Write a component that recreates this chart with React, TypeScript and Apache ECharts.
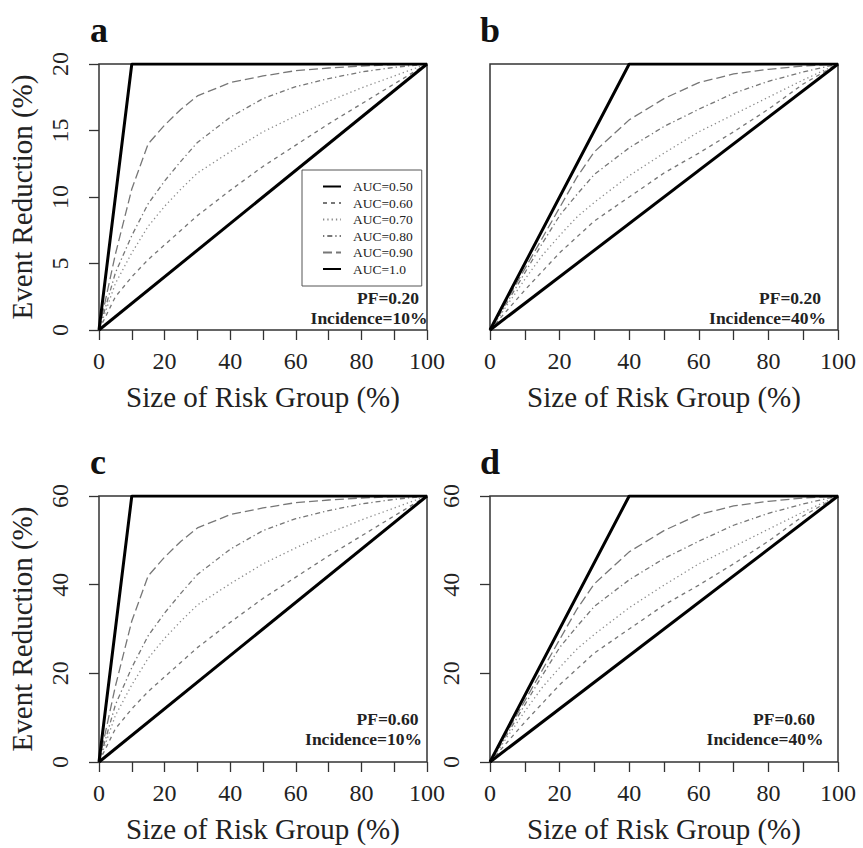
import React, { useEffect, useRef } from "react";
import * as echarts from "echarts";

// ---------- data ----------
const X_GRID = [0, 5, 10, 15, 20, 25, 30, 40, 50, 60, 70, 80, 90, 100];
const X_DIAG = [0, 100];
const AUC_LABELS = ["AUC=0.50", "AUC=0.60", "AUC=0.70", "AUC=0.80", "AUC=0.90", "AUC=1.0"];

// Panel a: PF=0.20, Incidence=10%
const A_AUC050 = [0, 20];
const A_AUC060 = [0, 2.5, 4.0, 5.3, 6.4, 7.5, 8.6, 10.5, 12.3, 13.9, 15.5, 17.0, 18.5, 20];
const A_AUC070 = [0, 3.5, 5.8, 7.8, 9.3, 10.6, 11.8, 13.4, 14.9, 16.1, 17.2, 18.2, 19.1, 20];
const A_AUC080 = [0, 4.3, 7.1, 9.5, 11.2, 12.7, 14.1, 16.0, 17.4, 18.3, 18.9, 19.4, 19.75, 20];
const A_AUC090 = [0, 5.7, 10.6, 14.0, 15.4, 16.6, 17.6, 18.6, 19.1, 19.5, 19.7, 19.85, 19.95, 20];
const A_AUC100_X = [0, 10, 100];
const A_AUC100 = [0, 20, 20];

// Panel b: PF=0.20, Incidence=40%
const B_AUC050 = [0, 20];
const B_AUC060 = [0, 1.5, 3.0, 4.4, 5.8, 7.0, 8.2, 10.0, 11.8, 13.3, 14.9, 16.6, 18.5, 20];
const B_AUC070 = [0, 1.9, 3.8, 5.6, 7.1, 8.5, 9.6, 11.6, 13.3, 14.9, 16.2, 17.5, 18.8, 20];
const B_AUC080 = [0, 2.1, 4.3, 6.5, 8.6, 10.2, 11.7, 13.7, 15.3, 16.6, 17.8, 18.7, 19.4, 20];
const B_AUC090 = [0, 2.3, 4.6, 6.9, 9.2, 11.5, 13.4, 15.8, 17.4, 18.6, 19.25, 19.6, 19.85, 20];
const B_AUC100_X = [0, 40, 100];
const B_AUC100 = [0, 20, 20];

// Panel c: PF=0.60, Incidence=10%
const C_AUC050 = [0, 60];
const C_AUC060 = [0, 7.5, 12.0, 15.9, 19.2, 22.5, 25.8, 31.5, 36.9, 41.7, 46.5, 51.0, 55.5, 60];
const C_AUC070 = [0, 10.5, 17.4, 23.4, 27.9, 31.8, 35.4, 40.2, 44.7, 48.3, 51.6, 54.6, 57.3, 60];
const C_AUC080 = [0, 12.9, 21.3, 28.5, 33.6, 38.1, 42.3, 48.0, 52.2, 54.9, 56.7, 58.2, 59.25, 60];
const C_AUC090 = [0, 17.1, 31.8, 42.0, 46.2, 49.8, 52.8, 55.8, 57.3, 58.5, 59.1, 59.55, 59.85, 60];
const C_AUC100_X = [0, 10, 100];
const C_AUC100 = [0, 60, 60];

// Panel d: PF=0.60, Incidence=40%
const D_AUC050 = [0, 60];
const D_AUC060 = [0, 4.5, 9.0, 13.2, 17.4, 21.0, 24.6, 30.0, 35.4, 39.9, 44.7, 49.8, 55.5, 60];
const D_AUC070 = [0, 5.7, 11.4, 16.8, 21.3, 25.5, 28.8, 34.8, 39.9, 44.7, 48.6, 52.5, 56.4, 60];
const D_AUC080 = [0, 6.3, 12.9, 19.5, 25.8, 30.6, 35.1, 41.1, 45.9, 49.8, 53.4, 56.1, 58.2, 60];
const D_AUC090 = [0, 6.9, 13.8, 20.7, 27.6, 34.5, 40.2, 47.4, 52.2, 55.8, 57.75, 58.8, 59.55, 60];
const D_AUC100_X = [0, 40, 100];
const D_AUC100 = [0, 60, 60];

const PANEL_LETTERS = ["a", "b", "c", "d"];
const PF_TEXT = ["PF=0.20", "PF=0.20", "PF=0.60", "PF=0.60"];
const INC_TEXT = ["Incidence=10%", "Incidence=40%", "Incidence=10%", "Incidence=40%"];
const Y_MAX = [20, 20, 60, 60];
const Y_INTERVAL = [5, 5, 20, 20];

const X_TITLE = "Size of Risk Group (%)";
const Y_TITLE = "Event Reduction (%)";

const PANEL_DATA = [
  [[X_DIAG, A_AUC050], [X_GRID, A_AUC060], [X_GRID, A_AUC070], [X_GRID, A_AUC080], [X_GRID, A_AUC090], [A_AUC100_X, A_AUC100]],
  [[X_DIAG, B_AUC050], [X_GRID, B_AUC060], [X_GRID, B_AUC070], [X_GRID, B_AUC080], [X_GRID, B_AUC090], [B_AUC100_X, B_AUC100]],
  [[X_DIAG, C_AUC050], [X_GRID, C_AUC060], [X_GRID, C_AUC070], [X_GRID, C_AUC080], [X_GRID, C_AUC090], [C_AUC100_X, C_AUC100]],
  [[X_DIAG, D_AUC050], [X_GRID, D_AUC060], [X_GRID, D_AUC070], [X_GRID, D_AUC080], [X_GRID, D_AUC090], [D_AUC100_X, D_AUC100]],
];

// ---------- layout / styles ----------
const FONT = "Liberation Serif";
const GRIDS = [
  { left: 99, top: 64, width: 328, height: 266 },
  { left: 490, top: 64, width: 348, height: 266 },
  { left: 99, top: 496, width: 328, height: 266 },
  { left: 490, top: 496, width: 348, height: 266 },
];
const SHOW_Y = [true, false, true, true];
const SHOW_Y_TITLE = [true, false, true, false];
const LETTER_POS = [
  [90, 30],
  [480, 30],
  [90, 462],
  [480, 462],
];
const PF_POS = [
  [419, 298],
  [821, 298],
  [418.5, 719],
  [815, 719],
];
const INC_POS = [
  [427.5, 318],
  [826, 318],
  [422, 738.5],
  [823.5, 739],
];

const LINE_STYLES: Record<string, any> = {
  "AUC=0.50": { color: "#000", width: 3, type: "solid" },
  "AUC=0.60": { color: "#777", width: 1.3, type: [4, 4] },
  "AUC=0.70": { color: "#8a8a8a", width: 1.3, type: [1.3, 3] },
  "AUC=0.80": { color: "#777", width: 1.3, type: [1.3, 3, 5, 3] },
  "AUC=0.90": { color: "#777", width: 1.3, type: [9, 4] },
  "AUC=1.0": { color: "#000", width: 3, type: "solid" },
};

function pairs(xs: number[], ys: number[]) {
  return xs.map((x, i) => [x, ys[i]]);
}

export default function App() {
  const ref = useRef<HTMLDivElement>(null);

  useEffect(() => {
    document.body.style.margin = "0";
    if (!ref.current) return;
    const chart = echarts.init(ref.current, undefined, { renderer: "svg" });

    const grid = GRIDS.map((g) => ({
      ...g,
      show: true,
      borderColor: "#333",
      borderWidth: 1.5,
      backgroundColor: "transparent",
      containLabel: false,
    }));

    const xAxis = GRIDS.map((_, i) => ({
      type: "value",
      gridIndex: i,
      min: 0,
      max: 100,
      interval: 10,
      axisLine: { show: false },
      axisTick: { show: true, length: 10, lineStyle: { color: "#333", width: 1.3 } },
      splitLine: { show: false },
      axisLabel: {
        formatter: (v: number) => (v % 20 === 0 ? String(v) : ""),
        fontSize: 24,
        fontFamily: FONT,
        color: "#222",
        margin: 19,
        showMinLabel: true,
        showMaxLabel: true,
      },
      name: X_TITLE,
      nameLocation: "middle",
      nameGap: 52,
      nameTextStyle: { fontSize: 29, fontFamily: FONT, color: "#222" },
    }));

    const yAxis = GRIDS.map((_, i) => ({
      type: "value",
      gridIndex: i,
      min: 0,
      max: Y_MAX[i],
      interval: Y_INTERVAL[i],
      show: SHOW_Y[i],
      axisLine: { show: false },
      axisTick: { show: true, length: 10, lineStyle: { color: "#333", width: 1.3 } },
      splitLine: { show: false },
      axisLabel: {
        rotate: 90,
        fontSize: 24,
        fontFamily: FONT,
        color: "#222",
        margin: 27,
        showMinLabel: true,
        showMaxLabel: true,
      },
      name: SHOW_Y_TITLE[i] ? Y_TITLE : "",
      nameLocation: "middle",
      nameGap: 63,
      nameTextStyle: { fontSize: 29, fontFamily: FONT, color: "#222" },
    }));

    const series: any[] = [];
    PANEL_DATA.forEach((panel, pi) => {
      panel.forEach(([xs, ys], si) => {
        const name = AUC_LABELS[si];
        const ls = LINE_STYLES[name];
        series.push({
          type: "line",
          name,
          xAxisIndex: pi,
          yAxisIndex: pi,
          data: pairs(xs as number[], ys as number[]),
          symbol: "none",
          silent: true,
          lineStyle: { color: ls.color, width: ls.width, type: ls.type },
          itemStyle: { color: ls.color },
          z: ls.width > 2 ? 3 : 2,
        });
      });
    });

    const graphic: any[] = [];
    PANEL_LETTERS.forEach((t, i) => {
      graphic.push({
        type: "text",
        x: LETTER_POS[i][0],
        y: LETTER_POS[i][1],
        style: {
          text: t,
          font: `bold 36px ${FONT}`,
          fill: "#111",
          textAlign: "left",
          textVerticalAlign: "middle",
        },
      });
      graphic.push({
        type: "text",
        x: PF_POS[i][0],
        y: PF_POS[i][1],
        style: {
          text: PF_TEXT[i],
          font: `bold 17.5px ${FONT}`,
          fill: "#222",
          textAlign: "right",
          textVerticalAlign: "middle",
        },
      });
      graphic.push({
        type: "text",
        x: INC_POS[i][0],
        y: INC_POS[i][1],
        style: {
          text: INC_TEXT[i],
          font: `bold 17.5px ${FONT}`,
          fill: "#222",
          textAlign: "right",
          textVerticalAlign: "middle",
        },
      });
    });

    chart.setOption({
      animation: false,
      backgroundColor: "#fff",
      grid,
      xAxis,
      yAxis,
      series,
      graphic,
      legend: {
        data: AUC_LABELS,
        orient: "vertical",
        left: 302,
        top: 170,
        itemWidth: 18,
        itemHeight: 14,
        itemGap: 2.5,
        padding: [9.5, 9, 10, 20],
        borderColor: "#555",
        borderWidth: 1,
        backgroundColor: "#fff",
        selectedMode: false,
        itemStyle: { opacity: 0 },
        textStyle: { fontFamily: FONT, fontSize: 13.5, color: "#222", padding: [0, 0, 0, 7] },
      },
    });

    return () => {
      chart.dispose();
    };
  }, []);

  return <div ref={ref} style={{ width: 863, height: 848 }} />;
}
